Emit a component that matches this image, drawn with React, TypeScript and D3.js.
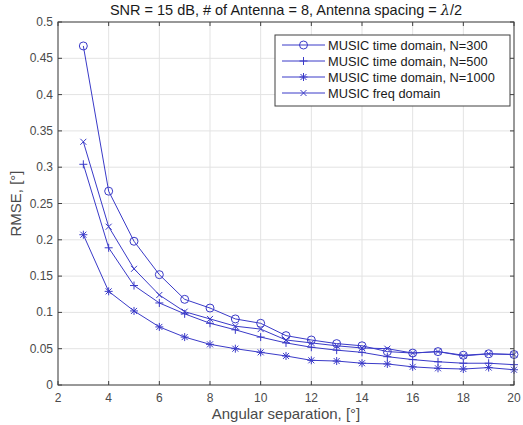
import React from "react";
import * as d3 from "d3";

const xs = [3, 4, 5, 6, 7, 8, 9, 10, 11, 12, 13, 14, 15, 16, 17, 18, 19, 20];
const n300 = [0.467, 0.267, 0.198, 0.152, 0.118, 0.106, 0.091, 0.085, 0.068, 0.062, 0.057, 0.054, 0.046, 0.044, 0.046, 0.041, 0.043, 0.042];
const n500 = [0.304, 0.189, 0.137, 0.113, 0.098, 0.085, 0.076, 0.066, 0.058, 0.052, 0.048, 0.045, 0.039, 0.035, 0.032, 0.030, 0.030, 0.028];
const n1000 = [0.207, 0.129, 0.102, 0.080, 0.066, 0.056, 0.050, 0.045, 0.040, 0.034, 0.033, 0.030, 0.029, 0.025, 0.023, 0.022, 0.024, 0.021];
const freq = [0.335, 0.218, 0.160, 0.124, 0.101, 0.091, 0.081, 0.077, 0.062, 0.058, 0.054, 0.051, 0.050, 0.044, 0.046, 0.040, 0.043, 0.042];
const seriesNames = ["MUSIC time domain, N=300", "MUSIC time domain, N=500", "MUSIC time domain, N=1000", "MUSIC freq domain"];
const markers = ["circle", "plus", "star", "cross"];
const xTicks = [2, 4, 6, 8, 10, 12, 14, 16, 18, 20];
const yTicks = [0, 0.05, 0.1, 0.15, 0.2, 0.25, 0.3, 0.35, 0.4, 0.45, 0.5];

const W = 523, H = 425;
const L = 58, R = 514, T = 22, B = 385;
const COLOR = "#3a3ac8";
const AX = "#404040";
const TXT = "#4a4a4a";
const FONT = "Liberation Sans, Arial, sans-serif";

function Marker({ type, x, y }: { type: string; x: number; y: number }) {
  const s = 4;
  if (type === "circle") return <circle cx={x} cy={y} r={4} fill="none" stroke={COLOR} strokeWidth={1} />;
  if (type === "plus")
    return <path d={`M${x - s},${y}H${x + s}M${x},${y - s}V${y + s}`} stroke={COLOR} strokeWidth={1} />;
  if (type === "cross") {
    const c = s * 0.75;
    return <path d={`M${x - c},${y - c}L${x + c},${y + c}M${x - c},${y + c}L${x + c},${y - c}`} stroke={COLOR} strokeWidth={1} />;
  }
  const c = s * 0.75;
  return (
    <path
      d={`M${x - s},${y}H${x + s}M${x},${y - s}V${y + s}M${x - c},${y - c}L${x + c},${y + c}M${x - c},${y + c}L${x + c},${y - c}`}
      stroke={COLOR}
      strokeWidth={1}
    />
  );
}

export default function App() {
  const x = d3.scaleLinear().domain([2, 20]).range([L, R]);
  const y = d3.scaleLinear().domain([0, 0.5]).range([B, T]);
  const line = d3
    .line<number>()
    .x((_, i) => x(xs[i]))
    .y((d) => y(d));
  const series = [n300, n500, n1000, freq];
  const fmt = (v: number) => (v === 0 ? "0" : String(+v.toFixed(2)));

  const lgX = 275, lgY = 35, lgW = 235, lgH = 71;
  const rowY = [45, 61, 77, 93];

  return (
    <svg width={W} height={H} style={{ position: "absolute", left: 0, top: 0, background: "#fff" }} fontFamily={FONT}>
      <rect x={0} y={0} width={W} height={H} fill="#fff" />
      <rect x={L} y={T} width={R - L} height={B - T} fill="#fff" />
      {xTicks.map((t) => (
        <line key={"gx" + t} x1={x(t)} x2={x(t)} y1={T} y2={B} stroke="#e3e3e3" strokeWidth={1} />
      ))}
      {yTicks.map((t) => (
        <line key={"gy" + t} x1={L} x2={R} y1={y(t)} y2={y(t)} stroke="#e3e3e3" strokeWidth={1} />
      ))}
      {series.map((s, k) => (
        <g key={"s" + k}>
          <path d={line(s) || ""} fill="none" stroke={COLOR} strokeWidth={1} />
          {s.map((v, i) => (
            <Marker key={i} type={markers[k]} x={x(xs[i])} y={y(v)} />
          ))}
        </g>
      ))}
      <rect x={L} y={T} width={R - L} height={B - T} fill="none" stroke={AX} strokeWidth={1} />
      {xTicks.map((t) => (
        <g key={"tx" + t}>
          <line x1={x(t)} x2={x(t)} y1={B} y2={B - 4} stroke={AX} />
          <line x1={x(t)} x2={x(t)} y1={T} y2={T + 4} stroke={AX} />
          <text x={x(t)} y={B + 17} textAnchor="middle" fontSize={12} fill={TXT}>
            {t}
          </text>
        </g>
      ))}
      {yTicks.map((t) => (
        <g key={"ty" + t}>
          <line x1={L} x2={L + 4} y1={y(t)} y2={y(t)} stroke={AX} />
          <line x1={R} x2={R - 4} y1={y(t)} y2={y(t)} stroke={AX} />
          <text x={L - 5} y={y(t) + 4} textAnchor="end" fontSize={12} fill={TXT}>
            {fmt(t)}
          </text>
        </g>
      ))}
      <text x={(L + R) / 2} y={15} textAnchor="middle" fontSize={14.5} fill="#1a1a1a">
        SNR = 15 dB, # of Antenna = 8, Antenna spacing = <tspan fontFamily="DejaVu Serif, serif" fontStyle="italic">λ</tspan>/2
      </text>
      <text x={(L + R) / 2} y={419} textAnchor="middle" fontSize={15} fill={TXT}>
        Angular separation, [°]
      </text>
      <text transform={`translate(21,${(T + B) / 2}) rotate(-90)`} textAnchor="middle" fontSize={15} fill={TXT}>
        RMSE, [°]
      </text>
      <rect x={lgX} y={lgY} width={lgW} height={lgH} fill="#fff" stroke={AX} strokeWidth={1} />
      {seriesNames.map((n, k) => (
        <g key={"lg" + k}>
          <line x1={282} x2={325} y1={rowY[k]} y2={rowY[k]} stroke={COLOR} strokeWidth={1} />
          <Marker type={markers[k]} x={303.5} y={rowY[k]} />
          <text x={328} y={rowY[k] + 4.5} fontSize={12.8} fill="#1a1a1a">
            {n}
          </text>
        </g>
      ))}
    </svg>
  );
}
